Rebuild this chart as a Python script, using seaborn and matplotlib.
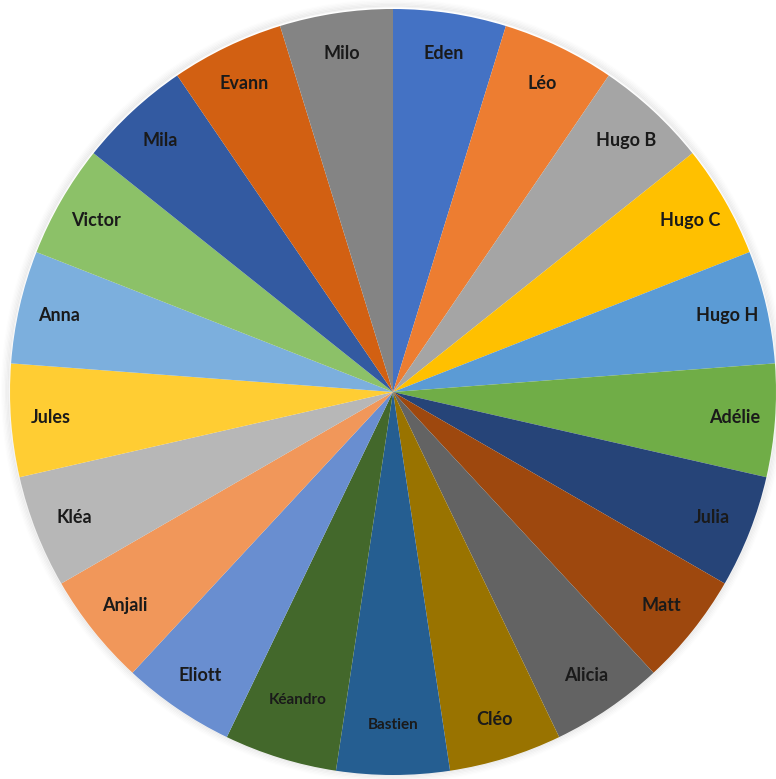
import matplotlib
matplotlib.use("Agg")
import matplotlib.pyplot as plt
from matplotlib.patches import Circle
import seaborn as sns

names = ["Eden", "Léo", "Hugo B", "Hugo C", "Hugo H", "Adélie", "Julia", "Matt",
         "Alicia", "Cléo", "Bastien", "Kéandro", "Eliott", "Anjali", "Kléa",
         "Jules", "Anna", "Victor", "Mila", "Evann", "Milo"]
values = [1] * len(names)
colors = ["#4472C4", "#ED7D31", "#A5A5A5", "#FFC000", "#5B9BD5", "#70AD47",
          "#264478", "#9E480E", "#636363", "#997300", "#255E91", "#43682B",
          "#698ED0", "#F1975A", "#B7B7B7", "#FFCD33", "#7CAFDD", "#8CC168",
          "#335AA1", "#D26012", "#848484"]
small_labels = {"Kéandro": 0.94, "Bastien": 0.97}

sns.set_theme(style="white")
plt.rcParams['font.family'] = ['Lato', 'DejaVu Sans']

W, H = 776, 779
fig = plt.figure(figsize=(W / 100, H / 100), dpi=100)
fig.patch.set_facecolor("white")
cx, cy, r = 393, 392, 383
ax = fig.add_axes([(cx - r) / W, (H - cy - r) / H, 2 * r / W, 2 * r / H])

# faint soft shadow around the pie
for k in range(1, 7):
    ax.add_patch(Circle((0, 0.003), 1.0 + k * 0.0035, facecolor="none",
                        edgecolor="#000000", linewidth=1.4,
                        alpha=0.05 * (7 - k) / 6, clip_on=False, zorder=0))

wedges, texts = ax.pie(values, labels=names, colors=sns.color_palette(colors),
                       startangle=90, counterclock=False, radius=1.0,
                       labeldistance=0.895,
                       wedgeprops=dict(linewidth=0, zorder=2),
                       textprops=dict(fontsize=13, fontweight="bold",
                                      color="#1a1a1a", ha="center", va="center"))
ax.set_xlim(-1, 1)
ax.set_ylim(-1, 1)
ax.set_aspect("equal")
ax.axis("off")
for t in texts:
    t.set_ha("center")
    t.set_va("center")
    t.set_zorder(3)
    name = t.get_text()
    if name in small_labels:
        t.set_fontsize(11)
        x, y = t.get_position()
        f = small_labels[name]
        t.set_position((x * f, y * f))

fig.savefig("out.png", dpi=100, facecolor="white")
